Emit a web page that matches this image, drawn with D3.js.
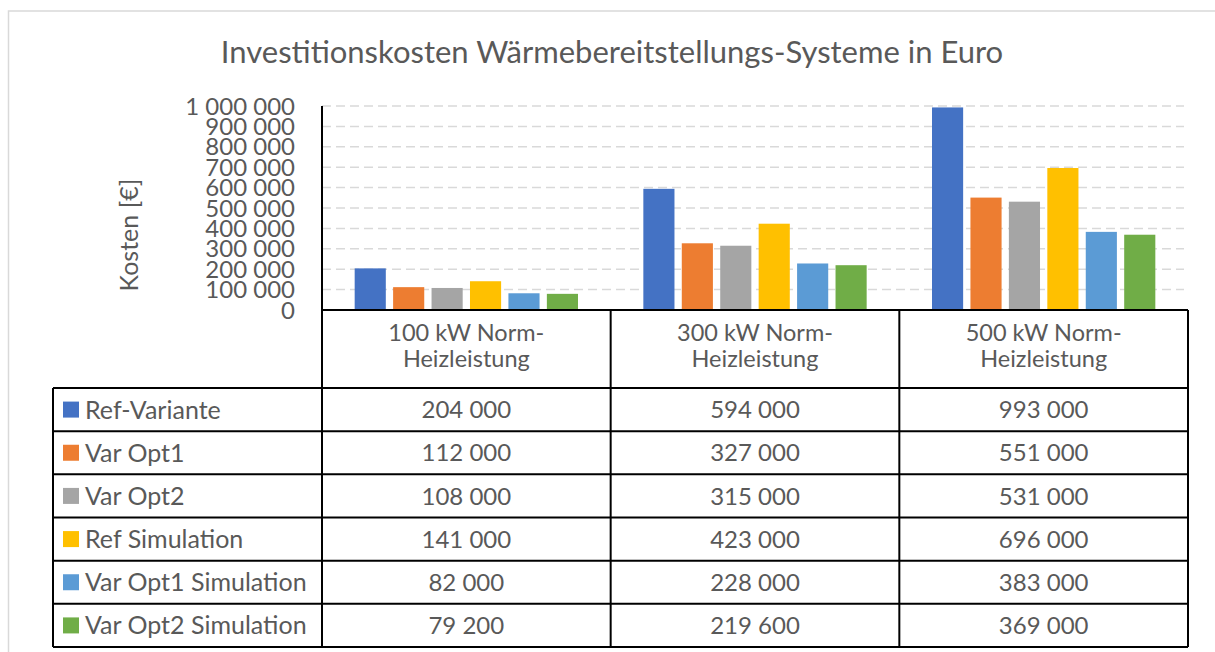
<!DOCTYPE html>
<html>
<head>
<meta charset="utf-8">
<script src="https://cdn.jsdelivr.net/npm/d3@7"></script>
<style>
  body { margin: 0; background: #fff; }
  svg { display: block; font-family: Lato, "Open Sans", sans-serif; }
</style>
</head>
<body>
<div id="chart"></div>
<script>
// categories (header cells, two lines each)
const categories = ["100 kW", "300 kW", "500 kW"];
const categoryLines = [
  ["100 kW Norm-", "Heizleistung"],
  ["300 kW Norm-", "Heizleistung"],
  ["500 kW Norm-", "Heizleistung"]
];
const seriesNames = ["Ref-Variante", "Var Opt1", "Var Opt2", "Ref Simulation", "Var Opt1 Simulation", "Var Opt2 Simulation"];
const seriesColors = ["#4472C4", "#ED7D31", "#A5A5A5", "#FFC000", "#5B9BD5", "#70AD47"];
const refVariante = [204000, 594000, 993000];
const varOpt1 = [112000, 327000, 551000];
const varOpt2 = [108000, 315000, 531000];
const refSimulation = [141000, 423000, 696000];
const varOpt1Sim = [82000, 228000, 383000];
const varOpt2Sim = [79200, 219600, 369000];
const seriesValues = [refVariante, varOpt1, varOpt2, refSimulation, varOpt1Sim, varOpt2Sim];
const yTicks = [0, 100000, 200000, 300000, 400000, 500000, 600000, 700000, 800000, 900000, 1000000];

const width = 1215;
const height = 652;
const textColor = "#595959";

const fmt = v => d3.format(",")(v).replace(/,/g, " ");

const svg = d3.select("#chart")
  .append("svg")
  .attr("width", width)
  .attr("height", height);

// outer chart frame
svg.append("rect")
  .attr("x", 8.5).attr("y", 11)
  .attr("width", 1230).attr("height", 700)
  .attr("fill", "none")
  .attr("stroke", "#d9d9d9")
  .attr("stroke-width", 1.5);

// title
svg.append("text")
  .attr("x", 612).attr("y", 63)
  .attr("text-anchor", "middle")
  .attr("fill", textColor)
  .style("font-size", "31px")
  .text("Investitionskosten Wärmebereitstellungs-Systeme in Euro");

const plotLeft = 322, plotRight = 1188;
const y = d3.scaleLinear().domain([0, 1000000]).range([310, 106]);
const x0 = d3.scaleBand().domain(categories).range([plotLeft, plotRight]);
const x1 = d3.scaleBand().domain(seriesNames).range([0, x0.bandwidth()])
  .paddingInner(0.19).paddingOuter(0.85);

// gridlines
svg.append("g")
  .selectAll("line")
  .data(yTicks.filter(t => t > 0))
  .enter()
  .append("line")
  .attr("x1", plotLeft).attr("x2", 1184)
  .attr("y1", d => y(d)).attr("y2", d => y(d))
  .attr("stroke", "#d9d9d9")
  .attr("stroke-width", 1.5)
  .attr("stroke-dasharray", "9,5");

// tick labels
svg.append("g")
  .selectAll("text")
  .data(yTicks)
  .enter()
  .append("text")
  .attr("x", 295)
  .attr("y", d => y(d))
  .attr("dy", "0.36em")
  .attr("text-anchor", "end")
  .attr("fill", textColor)
  .style("font-size", "24px")
  .text(fmt);

// y axis title
svg.append("text")
  .attr("transform", "translate(138,235) rotate(-90)")
  .attr("text-anchor", "middle")
  .attr("fill", textColor)
  .style("font-size", "25px")
  .text("Kosten [€]");

// bars
const groups = svg.append("g")
  .selectAll("g")
  .data(categories)
  .enter()
  .append("g")
  .attr("transform", d => `translate(${x0(d)},0)`);

groups.selectAll("rect")
  .data((d, ci) => seriesNames.map((s, si) => ({ s, v: seriesValues[si][ci], c: seriesColors[si] })))
  .enter()
  .append("rect")
  .attr("x", d => x1(d.s))
  .attr("width", x1.bandwidth())
  .attr("y", d => y(d.v))
  .attr("height", d => y(0) - y(d.v))
  .attr("fill", d => d.c);

// data table
const tableLeft = 53, headerTop = 310, rowsTop = 388, tableBottom = 647;
const rowY = d3.scaleBand().domain(seriesNames).range([rowsTop, tableBottom]);
const lines = svg.append("g").attr("stroke", "#000").attr("stroke-width", 2);

// axis line + baseline
lines.append("line").attr("x1", plotLeft).attr("x2", plotLeft).attr("y1", 106).attr("y2", tableBottom);
lines.append("line").attr("x1", plotLeft).attr("x2", plotRight).attr("y1", headerTop).attr("y2", headerTop);
// column separators
categories.forEach(c => {
  lines.append("line")
    .attr("x1", x0(c) + x0.bandwidth()).attr("x2", x0(c) + x0.bandwidth())
    .attr("y1", headerTop).attr("y2", tableBottom);
});
// legend column left edge
lines.append("line").attr("x1", tableLeft).attr("x2", tableLeft).attr("y1", rowsTop).attr("y2", tableBottom);
// row lines
seriesNames.forEach(s => {
  lines.append("line").attr("x1", tableLeft).attr("x2", plotRight)
    .attr("y1", rowY(s)).attr("y2", rowY(s));
});
lines.append("line").attr("x1", tableLeft).attr("x2", plotRight).attr("y1", tableBottom).attr("y2", tableBottom);

// header cells
categories.forEach((c, i) => {
  const t = svg.append("text")
    .attr("text-anchor", "middle")
    .attr("fill", textColor)
    .style("font-size", "23.5px");
  categoryLines[i].forEach((ln, k) => {
    t.append("tspan")
      .attr("x", x0(c) + x0.bandwidth() / 2)
      .attr("y", 341 + k * 26)
      .text(ln);
  });
});

// legend keys and names
seriesNames.forEach((s, si) => {
  const cy = rowY(s) + rowY.bandwidth() / 2;
  svg.append("rect")
    .attr("x", 63).attr("y", cy - 8)
    .attr("width", 16).attr("height", 16)
    .attr("fill", seriesColors[si]);
  svg.append("text")
    .attr("x", 85).attr("y", cy)
    .attr("dy", "0.36em")
    .attr("fill", textColor)
    .style("font-size", "25px")
    .text(s);
  categories.forEach((c, ci) => {
    svg.append("text")
      .attr("x", x0(c) + x0.bandwidth() / 2)
      .attr("y", cy)
      .attr("dy", "0.36em")
      .attr("text-anchor", "middle")
      .attr("fill", textColor)
      .style("font-size", "24px")
      .text(fmt(seriesValues[si][ci]));
  });
});
</script>
</body>
</html>
